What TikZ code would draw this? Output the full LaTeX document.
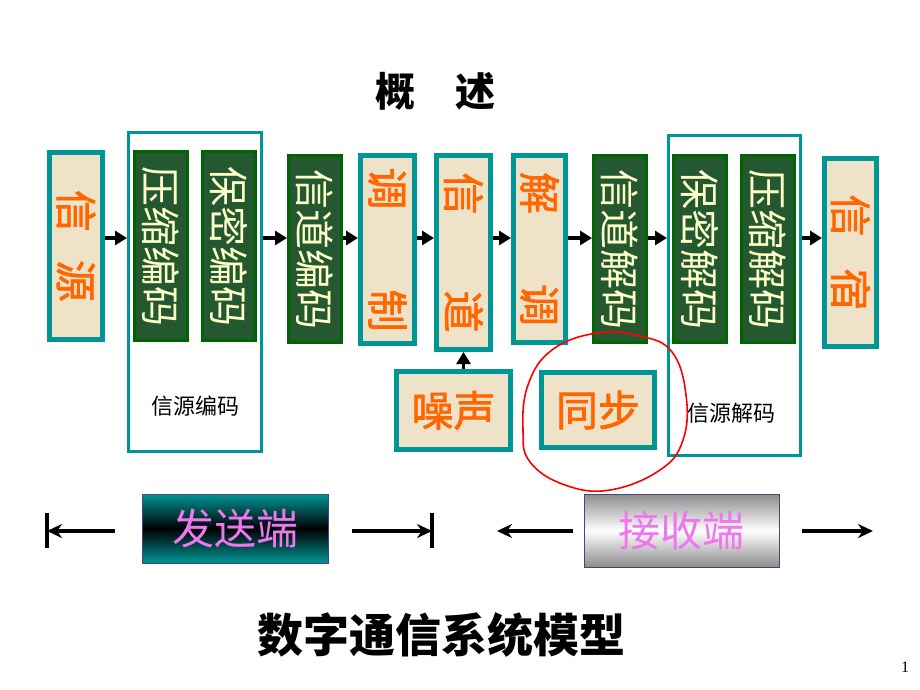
\documentclass[tikz,border=0pt]{standalone}
\usepackage{fontspec}
\setmainfont{Liberation Serif}
\newfontfamily\cjk{Noto Sans CJK SC}
\newfontfamily\cjkfat{Noto Sans CJK SC}[FakeBold=1.6]
\usetikzlibrary{arrows.meta,calc}

\definecolor{teal1}{RGB}{0,150,150}
\definecolor{paper}{RGB}{238,226,200}
\definecolor{leaf}{RGB}{35,88,48}
\definecolor{leafrim}{RGB}{0,100,0}
\definecolor{cream}{RGB}{255,255,200}
\definecolor{orng}{RGB}{255,102,0}
\definecolor{pinkv}{RGB}{238,118,238}
\definecolor{rimblue}{RGB}{70,70,120}

\tikzset{
  paperbox/.style={draw=teal1, line width=5pt, fill=paper, inner sep=0pt,
    text=orng, font=\cjkfat\fontsize{42}{42}\selectfont},
  leafbox/.style={draw=leafrim, line width=3pt, fill=leaf, inner sep=0pt,
    minimum width=53pt, minimum height=189pt, text=cream,
    font=\cjk\fontsize{40}{40}\selectfont},
  groupbox/.style={draw=teal1, line width=3pt, inner sep=0pt},
  arr/.style={-{Triangle[length=12pt,width=14pt]}, line width=3.5pt},
  endarr/.style={-{Stealth[length=15pt,width=14pt]}, line width=3.5pt},
  bar/.style={line width=3.5pt},
}

\begin{document}
\begin{tikzpicture}[x=1pt,y=-1pt]
  \fill[white] (0,0) rectangle (920,690);
  \useasboundingbox (0,0) rectangle (920,690);

  % titles %
  \node[font=\cjk\bfseries\fontsize{40}{40}\selectfont] (title) at (435,91) {概\hspace{40pt}述};
  \node[font=\cjk\bfseries\fontsize{46}{46}\selectfont] (model) at (441,635) {数字通信系统模型};
  \node[font=\fontsize{16}{16}\selectfont] (page) at (905,667) {1};

  % nodes %
  \node[paperbox, minimum width=53pt, minimum height=187pt] (src) at (76,246)
    {\rotatebox{-90}{信\hspace{28pt}源}};
  \node[groupbox, minimum width=133pt, minimum height=319pt] (senc) at (195,292) {};
  \node[leafbox] (zip) at (161,246) {\rotatebox{-90}{压缩编码}};
  \node[leafbox] (enc) at (229,246) {\rotatebox{-90}{保密编码}};
  \node[font=\cjk\fontsize{22}{22}\selectfont] (sencl) at (195,406) {信源编码};

  \node[leafbox, minimum height=187pt] (cenc) at (315,249) {\rotatebox{-90}{信道编码}};
  \node[paperbox, minimum width=54pt, minimum height=188pt] (mod) at (387.5,249.5)
    {\rotatebox{-90}{调\hspace{80pt}制}};
  \node[paperbox, minimum width=54pt, minimum height=194pt] (chan) at (463.5,252.5)
    {\rotatebox{-90}{信\hspace{76pt}道}};
  \node[paperbox, minimum width=114pt, minimum height=78pt] (noise) at (453.5,410.5) {噪声};
  \node[paperbox, minimum width=52pt, minimum height=187pt] (demod) at (539.5,249)
    {\rotatebox{-90}{解\hspace{70pt}调}};
  \node[leafbox, minimum height=187pt] (cdec) at (620,249) {\rotatebox{-90}{信道解码}};
  \node[paperbox, minimum width=113pt, minimum height=75pt] (sync) at (598,410) {同步};

  \node[groupbox, minimum width=132pt, minimum height=320pt] (sdec) at (734.5,295.5) {};
  \node[leafbox, minimum height=187pt] (dec) at (700,249) {\rotatebox{-90}{保密解码}};
  \node[leafbox, minimum height=187pt] (unzip) at (768,249) {\rotatebox{-90}{压缩解码}};
  \node[font=\cjk\fontsize{22}{22}\selectfont] (sdecl) at (731,413) {信源解码};
  \node[paperbox, minimum width=52pt, minimum height=188pt] (sink) at (850.5,252.5)
    {\rotatebox{-90}{信\hspace{32pt}宿}};

  \node[draw=rimblue, line width=0.8pt, top color=teal1, bottom color=teal1, middle color=black,
    minimum width=186pt, minimum height=69pt, text=pinkv,
    font=\cjk\fontsize{42}{42}\selectfont] (tx) at (235,528.5) {发送端};
  \node[draw=rimblue, line width=0.8pt, top color=black!45, bottom color=black!45, middle color=white,
    minimum width=195pt, minimum height=73pt, text=pinkv,
    font=\cjk\fontsize{42}{42}\selectfont] (rx) at (681.5,530.5) {接收端};

  \coordinate (row) at (0,238);
  \coordinate (txl) at (115,531);
  \coordinate (txlb) at (47,531);
  \coordinate (txr) at (352,531);
  \coordinate (txrb) at (432,531);
  \coordinate (rxl) at (573,531);
  \coordinate (rxle) at (497,531);
  \coordinate (rxr) at (802,531);
  \coordinate (rxre) at (873,531);

  % edges %
  \draw[arr] (src.east |- row) -- (senc.west |- row);
  \draw[arr] (senc.east |- row) -- (cenc.west |- row);
  \draw[arr] (cenc.east |- row) -- (mod.west |- row);
  \draw[arr] (mod.east |- row) -- (chan.west |- row);
  \draw[arr] (chan.east |- row) -- (demod.west |- row);
  \draw[arr] (demod.east |- row) -- (cdec.west |- row);
  \draw[arr] (cdec.east |- row) -- (sdec.west |- row);
  \draw[arr] (sdec.east |- row) -- (sink.west |- row);
  \draw[arr] (noise.north -| chan) -- (chan.south);

  \draw[endarr] (txl) -- (txlb);
  \draw[bar] ($(txlb)+(0,-18)$) -- ($(txlb)+(0,17)$);
  \draw[endarr] (txr) -- (txrb);
  \draw[bar] ($(txrb)+(0,-18)$) -- ($(txrb)+(0,17)$);
  \draw[endarr] (rxl) -- (rxle);
  \draw[endarr] (rxr) -- (rxre);

  % hand drawn ring %
  \draw[red, line width=1.6pt] plot[smooth cycle, tension=0.7] coordinates
    {(597,333) (640,336) (672,352) (686,395) (683,440) (660,470) (610,490)
     (565,485) (530,462) (523,430) (528,385) (552,350)};
\end{tikzpicture}
\end{document}
